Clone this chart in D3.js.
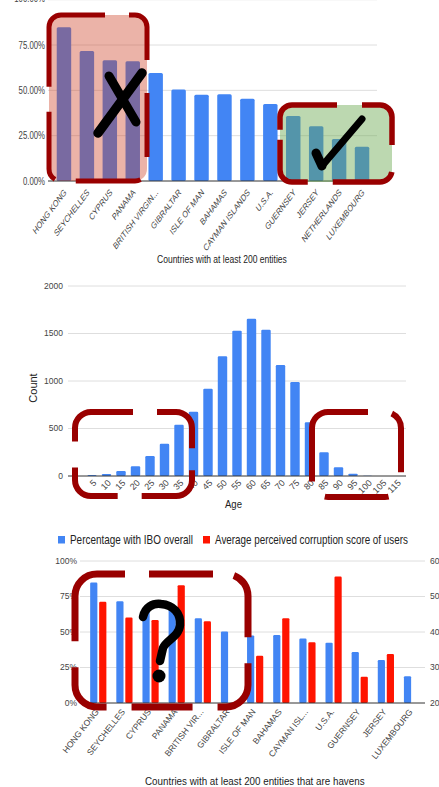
<!DOCTYPE html>
<html><head><meta charset="utf-8">
<script src="https://cdn.jsdelivr.net/npm/d3@7/dist/d3.min.js"></script>
<style>
html,body{margin:0;padding:0;background:#fff;}
svg{display:block;font-family:"Liberation Sans",Arial,sans-serif;}
</style></head><body>
<svg id="c" width="439" height="787"></svg>
<script>
// ---- data ----
const havens = ["HONG KONG","SEYCHELLES","CYPRUS","PANAMA","BRITISH VIRGIN...","GIBRALTAR","ISLE OF MAN","BAHAMAS","CAYMAN ISLANDS","U.S.A.","GUERNSEY","JERSEY","NETHERLANDS","LUXEMBOURG"];
const iboShare = [0.848,0.717,0.666,0.660,0.596,0.504,0.476,0.478,0.454,0.425,0.359,0.302,0.232,0.189];
const pctTicks = [0,0.25,0.5,0.75,1];

const ageBins = ["5","10","15","20","25","30","35","40","45","50","55","60","65","70","75","80","85","90","95","100","105","115"];
const ageCounts = [10,20,53,102,210,340,540,677,919,1260,1530,1656,1540,1168,989,565,249,92,25,3,1,1];
const countTicks = [0,500,1000,1500,2000];

const havenCountries = ["HONG KONG","SEYCHELLES","CYPRUS","PANAMA","BRITISH VIRGIN...","GIBRALTAR","ISLE OF MAN","BAHAMAS","CAYMAN ISLANDS","U.S.A.","GUERNSEY","JERSEY","LUXEMBOURG"];
const havenLabels = ["HONG KONG","SEYCHELLES","CYPRUS","PANAMA","BRITISH VIR...","GIBRALTAR","ISLE OF MAN","BAHAMAS","CAYMAN ISL...","U.S.A.","GUERNSEY","JERSEY","LUXEMBOURG"];
const corruptionScore = [48.5,44.1,43.4,53.2,43.0,null,33.3,43.9,37.1,55.6,27.4,33.8,null];
const scoreTicks = [20,30,40,50,60];
const pctTicks3 = [0,0.25,0.5,0.75,1];

const BLUE = "#4285f4", RED = "#ff1400", GRID = "#dedede", AXIS = "#333", TXT = "#444";
const svg = d3.select("#c");

// text helper: optional horizontal squeeze (fixed or fitted to a width) and rotation
function txt(g, x, y, s, o) {
  const t = g.append("text")
    .attr("font-size", o.size).attr("fill", o.fill||TXT)
    .attr("text-anchor", o.anchor||"start").text(s);
  if (o.dy) t.attr("dy", o.dy);
  let sx = o.sx || 1;
  if (o.len) sx = o.len / t.node().getComputedTextLength();
  t.attr("transform", `translate(${x},${y}) scale(${sx},1) rotate(${o.rot||0})`);
  return t;
}

// ================= chart 1: share with IBO =================
const g1 = svg.append("g");
const y1 = d3.scaleLinear().domain([0,1]).range([181,-0.3]);
const x1 = d3.scaleBand().domain(havens).range([52.5,373.5]).paddingInner(0.37).paddingOuter(0.185);
g1.selectAll("line.grid").data(pctTicks.filter(d=>d>0)).join("line")
  .attr("x1",48).attr("x2",377).attr("y1",d=>y1(d)).attr("y2",d=>y1(d))
  .attr("stroke",GRID);
g1.selectAll("rect").data(havens).join("rect")
  .attr("x",d=>x1(d)).attr("width",x1.bandwidth())
  .attr("y",(d,i)=>y1(iboShare[i])).attr("height",(d,i)=>y1(0)-y1(iboShare[i]))
  .attr("rx",1.5).attr("fill",BLUE);
g1.append("line").attr("x1",48).attr("x2",377).attr("y1",y1(0)).attr("y2",y1(0)).attr("stroke",AXIS);
const fmt1 = d3.format(".2%");
pctTicks.forEach(d=>txt(g1,45,y1(d)-(d===1?1.5:0),fmt1(d),{size:10,sx:0.78,anchor:"end",dy:"0.35em"}));
havens.forEach(d=>txt(g1,x1(d)+x1.bandwidth()/2+3,193,d,{size:9.5,sx:0.75,rot:-45,anchor:"end"}));
txt(g1,157,263,"Countries with at least 200 entities",{size:11,len:130,fill:"#222"});

// ================= chart 2: age histogram =================
const g2 = svg.append("g");
const y2 = d3.scaleLinear().domain([0,2000]).range([476,286]);
const x2 = d3.scaleBand().domain(ageBins).range([84.75,403.75]).paddingInner(0.35).paddingOuter(0.175);
g2.selectAll("line.grid").data(countTicks.filter(d=>d>0)).join("line")
  .attr("x1",68).attr("x2",406).attr("y1",d=>y2(d)).attr("y2",d=>y2(d)).attr("stroke",GRID);
g2.selectAll("rect").data(ageBins).join("rect")
  .attr("x",d=>x2(d)).attr("width",x2.bandwidth())
  .attr("y",(d,i)=>y2(ageCounts[i])).attr("height",(d,i)=>y2(0)-y2(ageCounts[i]))
  .attr("rx",1.2).attr("fill",BLUE);
g2.append("line").attr("x1",68).attr("x2",406).attr("y1",y2(0)).attr("y2",y2(0)).attr("stroke",AXIS);
countTicks.forEach(d=>txt(g2,63,y2(d),String(d),{size:8.5,anchor:"end",dy:"0.35em"}));
ageBins.forEach(d=>txt(g2,x2(d)+x2.bandwidth()/2+5,483.5,d,{size:9,rot:-45,anchor:"end"}));
txt(g2,225,508,"Age",{size:10,len:17,fill:"#222"});
g2.append("text").attr("transform","translate(37,388) rotate(-90)").attr("text-anchor","middle")
  .attr("font-size",11).attr("fill","#222").text("Count");

// ================= chart 3: IBO share vs perceived corruption =================
const g3 = svg.append("g");
const y3 = d3.scaleLinear().domain([0,1]).range([703,561]);
const y3r = d3.scaleLinear().domain([20,60]).range([703,561]);
const x3 = d3.scaleBand().domain(havenCountries).range([85.2,425.1]).paddingInner(0.38).paddingOuter(0.19);
const xs = d3.scaleBand().domain(["ibo","cpi"]).range([0,x3.bandwidth()]).paddingInner(0.2);
const havenIbo = havenCountries.map(c=>iboShare[havens.indexOf(c)]);
g3.selectAll("line.grid").data(pctTicks3.filter(d=>d>0)).join("line")
  .attr("x1",80).attr("x2",425).attr("y1",d=>y3(d)).attr("y2",d=>y3(d)).attr("stroke",GRID);
g3.selectAll("rect.ibo").data(havenCountries).join("rect").attr("class","ibo")
  .attr("x",d=>x3(d)+xs("ibo")).attr("width",xs.bandwidth())
  .attr("y",(d,i)=>y3(havenIbo[i])).attr("height",(d,i)=>y3(0)-y3(havenIbo[i]))
  .attr("rx",1.2).attr("fill",BLUE);
const cpiRows = havenCountries.map((c,i)=>({c,v:corruptionScore[i]})).filter(r=>r.v!=null);
g3.selectAll("rect.cpi").data(cpiRows).join("rect").attr("class","cpi")
  .attr("x",r=>x3(r.c)+xs("cpi")).attr("width",xs.bandwidth())
  .attr("y",r=>y3r(r.v)).attr("height",r=>y3r(20)-y3r(r.v))
  .attr("rx",1.2).attr("fill",RED);
g3.append("line").attr("x1",80).attr("x2",425).attr("y1",y3(0)).attr("y2",y3(0)).attr("stroke",AXIS);
const fmt3 = d3.format(".0%");
pctTicks3.forEach(d=>txt(g3,77,y3(d),fmt3(d),{size:8.5,anchor:"end",dy:"0.35em"}));
scoreTicks.forEach(d=>txt(g3,430,y3r(d),String(d),{size:8.5,dy:"0.35em"}));
havenCountries.forEach((d,i)=>txt(g3,x3(d)+x3.bandwidth()/2+1,712,havenLabels[i],{size:8.5,rot:-52,anchor:"end"}));
// legend
g3.append("rect").attr("x",58).attr("y",536).attr("width",7).attr("height",7.5).attr("fill",BLUE);
txt(g3,70,544,"Percentage with IBO overall",{size:12,len:123,fill:"#222"});
g3.append("rect").attr("x",203).attr("y",536).attr("width",7).attr("height",7.5).attr("fill",RED);
txt(g3,215,544,"Average perceived corruption score of users",{size:12,len:193,fill:"#222"});
txt(g3,145,785,"Countries with at least 200 entities that are havens",{size:11,len:220,fill:"#222"});

// ================= markup layer: highlight boxes and marks =================
const boxes = [
  {x:49,y:15,w:98,h:166,r:12,sw:5,fill:"#cc4125",op:0.4,
   segs:[[["left",87],["top",105]],[["top",129],["right",60]],[["right",93],["right",157]],
         [["bottom",141],["bottom",76]],[["bottom",55],["left",112]]]},
  {x:280,y:105,w:112,h:77,r:12,sw:5.5,fill:"#6aa84f",op:0.45,
   segs:[[["left",130],["top",337]],[["top",362],["right",145]],[["right",172],["bottom",333]],[["bottom",308],["left",140]]]},
  {x:75,y:412,w:117,h:84,r:16,sw:6,
   segs:[[["left",442],["top",133]],[["top",157],["right",448]],[["right",470],["bottom",142]],[["bottom",118],["left",468]]]},
  {x:312,y:412,w:89,h:85,r:16,sw:6,
   segs:[[["left",482],["top",368]],[["top",392],["right",472]],[["bottom",389],["bottom",325]]]},
  {x:75,y:574,w:173,h:133,r:22,sw:7,
   segs:[[["left",642],["top",125]],[["top",149],["top",213]],[["top",234],["right",637]],
         [["right",663],["bottom",218]],[["bottom",193],["bottom",132]],[["bottom",107],["left",668]]]}
];
const marks = svg.append("g");
function roundRectPath(b){
  const {x,y,w,h,r}=b;
  return `M${x+r},${y}H${x+w-r}A${r},${r} 0 0 1 ${x+w},${y+r}V${y+h-r}A${r},${r} 0 0 1 ${x+w-r},${y+h}`+
         `H${x+r}A${r},${r} 0 0 1 ${x},${y+h-r}V${y+r}A${r},${r} 0 0 1 ${x+r},${y}Z`;
}
function dashFor(b){
  const W=b.w-2*b.r, H=b.h-2*b.r, a=Math.PI*b.r/2, L=2*W+2*H+4*a;
  const pos=(side,v)=>{
    let d;
    if(side==="top") d=v-(b.x+b.r);
    else if(side==="right") d=W+a+(v-(b.y+b.r));
    else if(side==="bottom") d=W+2*a+H+((b.x+b.w-b.r)-v);
    else d=2*W+H+3*a+((b.y+b.h-b.r)-v);
    return ((d%L)+L)%L;
  };
  let iv=[];
  b.segs.forEach(([s,e])=>{
    const s0=pos(...s), e0=pos(...e);
    if(e0>=s0) iv.push([s0,e0]); else { iv.push([s0,L]); iv.push([0,e0]); }
  });
  iv.sort((p,q)=>p[0]-q[0]);
  const arr=[0]; let cur=0;
  iv.forEach(([s,e])=>{arr.push(Math.max(0,s-cur)); arr.push(e-Math.max(s,cur)); cur=e;});
  arr.push(Math.max(0,L-cur));
  return arr.join(",");
}
boxes.filter(b=>b.fill).forEach(b=>{
  marks.append("rect").attr("x",b.x).attr("y",b.y).attr("width",b.w).attr("height",b.h)
    .attr("rx",b.r).attr("fill",b.fill).attr("opacity",b.op);
});
boxes.forEach(b=>{
  marks.append("path").attr("d",roundRectPath(b)).attr("fill","none")
    .attr("stroke","#990000").attr("stroke-width",b.sw).attr("stroke-dasharray",dashFor(b));
});
// cross, tick and question mark
const ink = {fill:"none",stroke:"#000","stroke-linecap":"round","stroke-linejoin":"round"};
function inkPath(d,w){ const p=marks.append("path").attr("d",d).attr("stroke-width",w); Object.entries(ink).forEach(([k,v])=>p.attr(k,v)); }
inkPath("M109,76L136,122",9);
inkPath("M142,73L98,133",9.5);
inkPath("M316,153L322,166",9);
inkPath("M322,166L362,119",7);
inkPath("M143,617C145,607 153,603 161,604C173,605 181,613 180,625C179,637 166,640 163,648L160,661",8.5);
marks.append("circle").attr("cx",159).attr("cy",676).attr("r",6.5).attr("fill","#000");
</script>
</body></html>
